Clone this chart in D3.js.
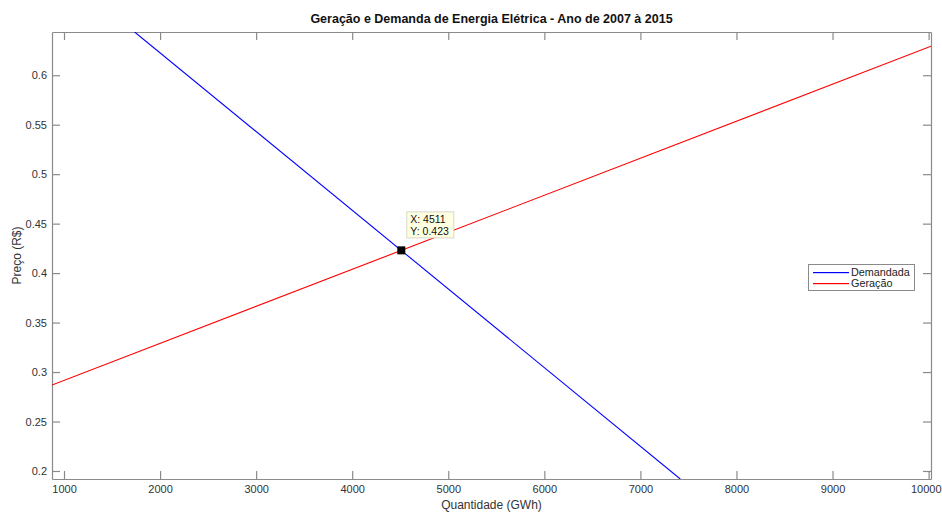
<!DOCTYPE html>
<html>
<head>
<meta charset="utf-8">
<script src="https://cdn.jsdelivr.net/npm/d3@7"></script>
<style>
  html, body { margin: 0; padding: 0; background: #fff; }
  svg { display: block; font-family: "Liberation Sans", Arial, sans-serif; }
</style>
</head>
<body>
<svg id="chart" width="942" height="512"></svg>
<script>
// Supply/demand curves (quantity in GWh, price in R$)
const demandQty = [1735, 7415];
const demandPrice = [0.6437, 0.1919];
const supplyQty = [875, 10025];
const supplyPrice = [0.2869, 0.6293];
const seriesNames = ["Demandada", "Geração"];
const seriesColors = ["#0000ff", "#ff0000"];
// Equilibrium point marked with a data tip
const eqQty = [4511];
const eqPrice = [0.423];
const xTicks = [1000, 2000, 3000, 4000, 5000, 6000, 7000, 8000, 9000, 10000];
const yTicks = [0.2, 0.25, 0.3, 0.35, 0.4, 0.45, 0.5, 0.55, 0.6];
const xDomain = [875, 10025];
const yDomain = [0.1919, 0.6437];

const svg = d3.select("#chart");
const box = { left: 52, top: 32, right: 931, bottom: 479 };
const axisColor = "#8a8a8a";
const textColor = "#333";

const x = d3.scaleLinear().domain(xDomain).range([box.left, box.right]);
const y = d3.scaleLinear().domain(yDomain).range([box.bottom, box.top]);

svg.append("defs").append("clipPath").attr("id", "plotclip")
  .append("rect")
  .attr("x", box.left).attr("y", box.top)
  .attr("width", box.right - box.left).attr("height", box.bottom - box.top);

// Axes (ticks pointing inward, mirrored on top/right)
const tickLen = 8;
const bottomAxis = d3.axisBottom(x).tickValues(xTicks).tickSizeInner(-tickLen).tickSizeOuter(0).tickPadding(6).tickFormat(d3.format("d"));
const topAxis = d3.axisTop(x).tickValues(xTicks).tickSizeInner(-tickLen).tickSizeOuter(0).tickFormat("");
const leftAxis = d3.axisLeft(y).tickValues(yTicks).tickSizeInner(-tickLen).tickSizeOuter(0).tickPadding(5).tickFormat(d3.format("~g"));
const rightAxis = d3.axisRight(y).tickValues(yTicks).tickSizeInner(-tickLen).tickSizeOuter(0).tickFormat("");

function styleAxis(g) {
  g.selectAll("path").attr("stroke", axisColor).attr("stroke-width", 1.2);
  g.selectAll("line").attr("stroke", axisColor).attr("stroke-width", 1.2);
  g.selectAll("text").attr("fill", textColor).attr("font-size", 11)
    .attr("font-family", "Liberation Sans, Arial, sans-serif");
}

const gx = svg.append("g").attr("transform", `translate(0,${box.bottom})`).call(bottomAxis).call(styleAxis);
// keep the last label inside the page edge
gx.selectAll(".tick text").filter(d => d === xTicks[xTicks.length - 1])
  .attr("text-anchor", "end").attr("x", 942 - x(xTicks[xTicks.length - 1]) - 1);
svg.append("g").attr("transform", `translate(0,${box.top})`).call(topAxis).call(styleAxis);
svg.append("g").attr("transform", `translate(${box.left},0)`).call(leftAxis).call(styleAxis);
svg.append("g").attr("transform", `translate(${box.right},0)`).call(rightAxis).call(styleAxis);

// Curves
const line = d3.line().x(d => x(d[0])).y(d => y(d[1]));
const plot = svg.append("g").attr("clip-path", "url(#plotclip)");
const series = [
  d3.zip(demandQty, demandPrice),
  d3.zip(supplyQty, supplyPrice)
];
series.forEach((pts, i) => {
  plot.append("path").datum(pts).attr("d", line)
    .attr("fill", "none").attr("stroke", seriesColors[i]).attr("stroke-width", 1.1);
});

// Data tip
const ex = x(eqQty[0]), ey = y(eqPrice[0]);
svg.append("rect").attr("x", ex - 4).attr("y", ey - 4).attr("width", 8).attr("height", 8).attr("fill", "#000");
const tip = svg.append("g");
tip.append("rect").attr("x", ex + 5.5).attr("y", ey - 38.5).attr("width", 47).attr("height", 26)
  .attr("fill", "#ffffe1").attr("stroke", "#d8d8c8").attr("stroke-width", 1);
tip.append("text").attr("x", ex + 9).attr("y", ey - 27.5).attr("font-size", 10.5).attr("fill", "#111")
  .text(`X: ${eqQty[0]}`);
tip.append("text").attr("x", ex + 9).attr("y", ey - 15.5).attr("font-size", 10.5).attr("fill", "#111")
  .text(`Y: ${eqPrice[0]}`);

// Legend
const lg = svg.append("g").attr("transform", "translate(808,264)");
lg.append("rect").attr("x", 0.5).attr("y", 0.5).attr("width", 106).attr("height", 26)
  .attr("fill", "#fff").attr("stroke", "#8a8a8a").attr("stroke-width", 1);
seriesNames.forEach((name, i) => {
  const ly = 8 + i * 11;
  lg.append("rect").attr("x", 5).attr("y", ly).attr("width", 36).attr("height", 1.2)
    .attr("fill", seriesColors[i]);
  lg.append("text").attr("x", 43).attr("y", ly + 4.2).attr("font-size", 10.8).attr("fill", "#222").text(name);
});

// Titles
svg.append("text").attr("x", (box.left + box.right) / 2).attr("y", 23)
  .attr("text-anchor", "middle").attr("font-size", 12.5).attr("font-weight", "bold").attr("fill", "#111")
  .text("Geração e Demanda de Energia Elétrica - Ano de 2007 à 2015");
svg.append("text").attr("x", (box.left + box.right) / 2).attr("y", 509)
  .attr("text-anchor", "middle").attr("font-size", 12).attr("fill", textColor)
  .text("Quantidade (GWh)");
svg.append("text").attr("transform", `translate(21,${(box.top + box.bottom) / 2}) rotate(-90)`)
  .attr("text-anchor", "middle").attr("font-size", 12).attr("fill", textColor)
  .text("Preço (R$)");
</script>
</body>
</html>
